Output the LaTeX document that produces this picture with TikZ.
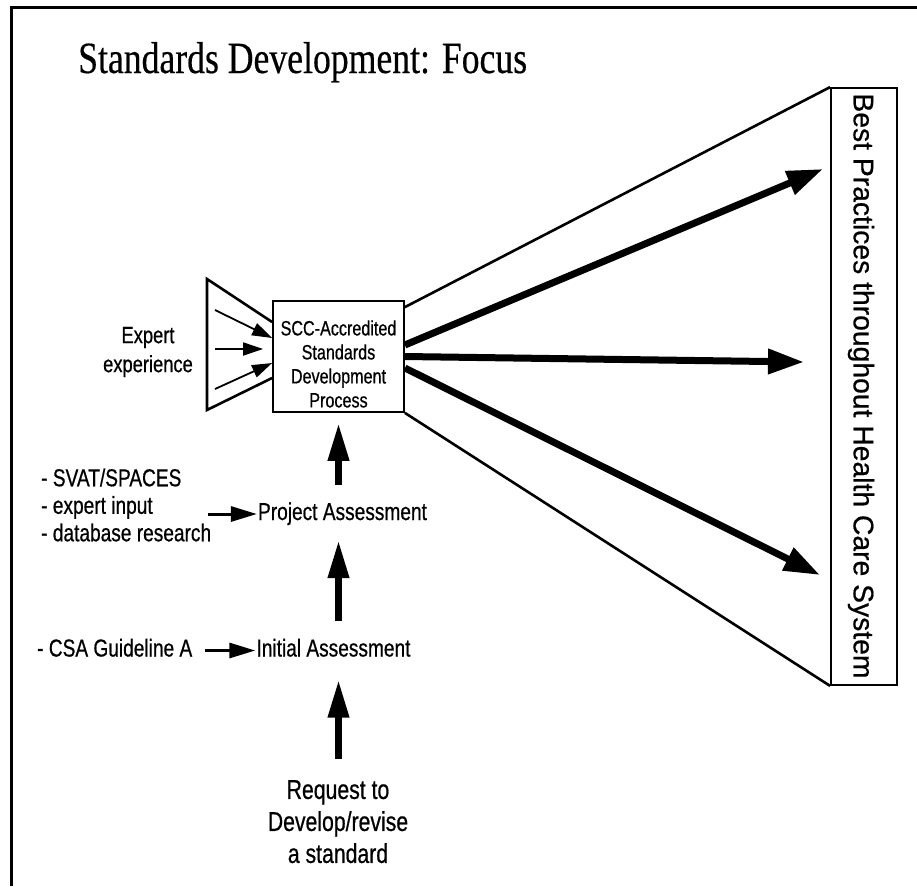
\documentclass[tikz,border=0pt]{standalone}
\usepackage{fontspec}
\setmainfont{Liberation Sans}[FakeBold=0.6]
\newfontfamily\narrowsans[FakeStretch=0.78,FakeBold=0.6]{Liberation Sans}
\newfontfamily\titleserif[FakeStretch=0.8,FakeBold=0.4]{Liberation Serif}
\usetikzlibrary{arrows.meta,calc}
\tikzset{
  fan/.style={line width=2.6pt,line join=miter},
  box/.style={draw,line width=1.8pt,inner sep=0pt},
  bigarrow/.style={line width=7pt,-{Triangle[length=36pt,width=24pt]}},
  uparrow/.style={line width=7pt,-{Triangle[length=38pt,width=20pt]}},
  sidearrow/.style={line width=3pt,-{Triangle[length=26pt,width=15pt]}},
  thinarrow/.style={line width=1.8pt,-{Triangle[length=20pt,width=13pt]}},
  lbl/.style={inner sep=1pt,text height=17pt,text depth=5pt,
    font={\narrowsans\fontsize{24.5}{27.5}\selectfont}},
}
\begin{document}
\begin{tikzpicture}[x=1pt,y=-1pt]
  \useasboundingbox (0,0) rectangle (917,886);
  % frame and title
  \draw[line width=3pt] (11,886) -- (11,7) -- (917,7);
  \node[anchor=base west,inner sep=0pt,font={\titleserif\fontsize{44.6}{50}\selectfont}]
    (title) at (78,73) {Standards Development: Focus};

  % central process box
  \node[box,minimum width=131pt,minimum height=111pt] (scc) at (338.5,356.5) {};
  \node[align=center,inner sep=0pt,font={\narrowsans\fontsize{20.7}{24}\selectfont}]
    (scctext) at (338.5,364) {SCC-Accredited\\Standards\\Development\\Process};

  % target box
  \node[box,minimum width=66pt,minimum height=597pt] (best) at (864,386.5) {};
  \node[rotate=-90,inner sep=0pt,font={\fontsize{28.3}{32}\selectfont}]
    (besttext) at (861,386) {Best Practices throughout Health Care System};

  % fan out to the target
  \draw[fan] ([yshift=-7pt]scc.north east) -- (best.north west);
  \draw[fan] (scc.south east) -- (best.south west);
  \coordinate (tipA) at (823,169);
  \coordinate (tipB) at (804,362);
  \coordinate (tipC) at (820,575);
  \draw[bigarrow] ([yshift=11.5pt]scc.east) -- (tipA);
  \draw[bigarrow] (scc.east) -- (tipB);
  \draw[bigarrow] ([yshift=-11.5pt]scc.east) -- (tipC);

  % expert funnel
  \coordinate (funA) at (207,279);
  \coordinate (funB) at (207,410);
  \draw[fan] ([yshift=34.5pt]scc.west) -- (funA) -- (funB) -- ([yshift=-21.5pt]scc.west);
  \coordinate (in1) at (215,310);
  \coordinate (in2) at (215,349);
  \coordinate (in3) at (215,389);
  \draw[thinarrow] (in1) -- ([yshift=18.5pt]scc.west);
  \draw[thinarrow] (in2) -- ([xshift=-9pt,yshift=7.5pt]scc.west);
  \draw[thinarrow] (in3) -- ([yshift=-6.5pt]scc.west);
  \node[align=center,inner sep=0pt,font={\narrowsans\fontsize{23.5}{29}\selectfont}]
    (expert) at (148,352) {Expert\\experience};

  % assessment chain
  \node[lbl,text height=,text depth=,align=left,anchor=west] (inputs) at (40,505)
    {- SVAT/SPACES\\- expert input\\- database research};
  \node[lbl] (proj) at (342.5,514) {Project Assessment};
  \node[lbl,anchor=west] (csa) at (36,650.5) {- CSA Guideline A};
  \node[lbl] (init) at (333.5,650.5) {Initial Assessment};
  \node[align=center,inner sep=1pt,anchor=north,font={\narrowsans\fontsize{27.2}{32}\selectfont}]
    (req) at (338,779) {Request to\\Develop/revise\\a standard};

  \draw[sidearrow,shorten <=-4pt] (proj.west -| inputs.east) -- (proj.west);
  \draw[sidearrow,shorten <=12pt] (csa.east) -- (init.west);
  \draw[uparrow,shorten <=17pt,shorten >=10pt] (scc.south |- proj.north) -- (scc.south);
  \draw[uparrow,shorten <=17pt,shorten >=14pt] (scc.south |- init.north) -- (scc.south |- proj.south);
  \draw[uparrow,shorten <=20pt,shorten >=17pt] (scc.south |- req.north) -- (scc.south |- init.south);
\end{tikzpicture}
\end{document}
